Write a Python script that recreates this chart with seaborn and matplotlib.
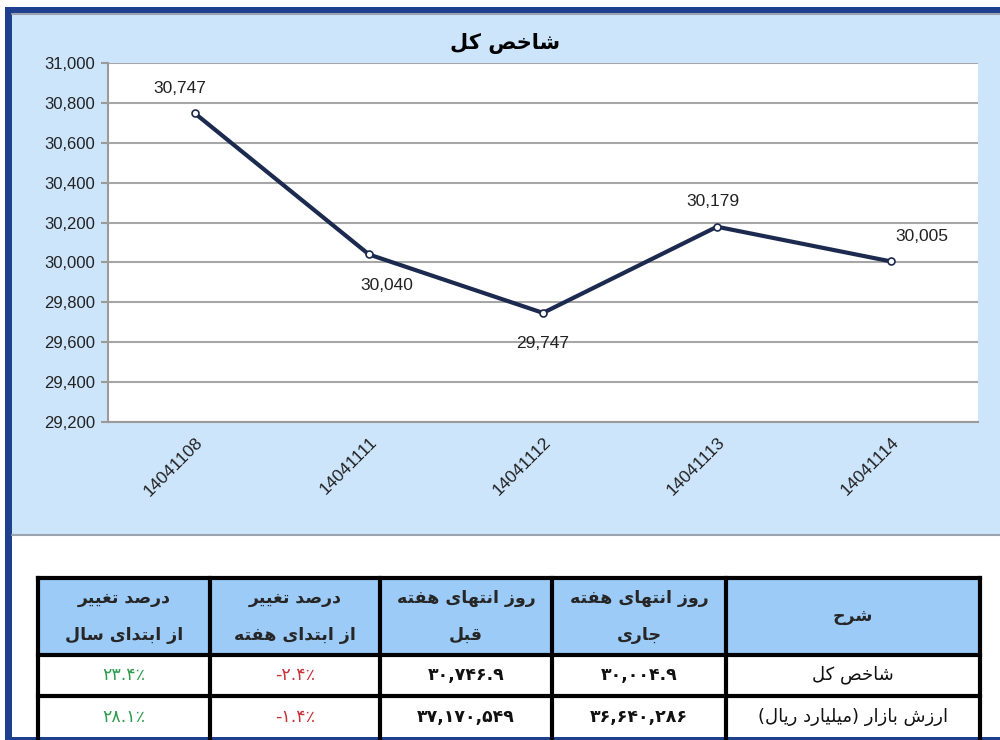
import seaborn as sns
import pandas as pd
import matplotlib.pyplot as plt
from matplotlib.patches import Rectangle

sns.set_style("white")
plt.rcParams['font.family'] = ['Liberation Sans', 'DejaVu Sans']

#-------------------------#
# Data
#-------------------------#
dates = ["14041108", "14041111", "14041112", "14041113", "14041114"]
index_values = [30747, 30040, 29747, 30179, 30005]
label_side = ["above", "below", "below", "above", "above"]
y_ticks = list(range(29200, 31001, 200))

chart_title = "شاخص کل"

# table columns, left to right as drawn
table_header = [
    ["درصد تغییر", "از ابتدای سال"],
    ["درصد تغییر", "از ابتدای هفته"],
    ["روز انتهای هفته", "قبل"],
    ["روز انتهای هفته", "جاری"],
    ["شرح"],
]
row_names = ["شاخص کل", "ارزش بازار (میلیارد ریال)"]
prev_week = ["۳۰,۷۴۶.۹", "۳۷,۱۷۰,۵۴۹"]
this_week = ["۳۰,۰۰۴.۹", "۳۶,۶۴۰,۲۸۶"]
week_change = ["-۲.۴٪", "-۱.۴٪"]
year_change = ["۲۳.۴٪", "۲۸.۱٪"]

#-------------------------#
# Persian shaping (matplotlib has no text layout for RTL)
#-------------------------#
FORMS = {
    'ا': ('\uFE8D', '\uFE8E', None, None),
    'ب': ('\uFE8F', '\uFE90', '\uFE91', '\uFE92'),
    'ت': ('\uFE95', '\uFE96', '\uFE97', '\uFE98'),
    'ج': ('\uFE9D', '\uFE9E', '\uFE9F', '\uFEA0'),
    'ح': ('\uFEA1', '\uFEA2', '\uFEA3', '\uFEA4'),
    'خ': ('\uFEA5', '\uFEA6', '\uFEA7', '\uFEA8'),
    'د': ('\uFEA9', '\uFEAA', None, None),
    'ر': ('\uFEAD', '\uFEAE', None, None),
    'ز': ('\uFEAF', '\uFEB0', None, None),
    'س': ('\uFEB1', '\uFEB2', '\uFEB3', '\uFEB4'),
    'ش': ('\uFEB5', '\uFEB6', '\uFEB7', '\uFEB8'),
    'ص': ('\uFEB9', '\uFEBA', '\uFEBB', '\uFEBC'),
    'غ': ('\uFECD', '\uFECE', '\uFECF', '\uFED0'),
    'ف': ('\uFED1', '\uFED2', '\uFED3', '\uFED4'),
    'ق': ('\uFED5', '\uFED6', '\uFED7', '\uFED8'),
    'ل': ('\uFEDD', '\uFEDE', '\uFEDF', '\uFEE0'),
    'م': ('\uFEE1', '\uFEE2', '\uFEE3', '\uFEE4'),
    'ن': ('\uFEE5', '\uFEE6', '\uFEE7', '\uFEE8'),
    'ه': ('\uFEE9', '\uFEEA', '\uFEEB', '\uFEEC'),
    'و': ('\uFEED', '\uFEEE', None, None),
    'ک': ('\uFB8E', '\uFB8F', '\uFB90', '\uFB91'),
    'ی': ('\uFBFC', '\uFBFD', '\uFBFE', '\uFBFF'),
}


def fa(text):
    out = []
    for i, c in enumerate(text):
        f = FORMS.get(c)
        if f is None:
            out.append(c)
            continue
        prev = text[i - 1] if i > 0 else ""
        nxt = text[i + 1] if i + 1 < len(text) else ""
        p = prev in FORMS and FORMS[prev][2] is not None
        n = nxt in FORMS and f[2] is not None
        if p and n:
            out.append(f[3])
        elif p:
            out.append(f[1])
        elif n:
            out.append(f[2])
        else:
            out.append(f[0])
    s = "".join(out)[::-1]
    return s.translate(str.maketrans("()", ")("))


#-------------------------#
# Figure and background
#-------------------------#
fig = plt.figure(figsize=(10, 7.4), dpi=100)
bg = fig.add_axes([0, 0, 1, 1], zorder=0)
bg.set_xlim(0, 1000)
bg.set_ylim(740, 0)
bg.axis("off")

navy = "#1F3F8F"
bg.add_patch(Rectangle((12, 15), 988, 520, color="#CDE5FB", lw=0))
bg.add_patch(Rectangle((5, 7), 7, 733, color=navy, lw=0))
bg.add_patch(Rectangle((5, 7), 995, 6, color=navy, lw=0))
bg.plot([12, 1000], [14, 14], color="#9AA3AE", lw=1.5)
bg.plot([12, 1000], [535, 535], color="#9AA3AE", lw=1.5)
bg.add_patch(Rectangle((5, 737), 995, 3, color=navy, lw=0))

#-------------------------#
# Line chart
#-------------------------#
df = pd.DataFrame({"date": dates, "value": index_values})
df["pos"] = range(len(df))

ax = fig.add_axes([0.108, 1 - 422 / 740, 0.870, (422 - 63) / 740], zorder=1)
ax.set_facecolor("white")
line_color = "#1B2A4E"
sns.lineplot(data=df, x="pos", y="value", ax=ax, color=line_color, lw=3,
             marker="o", markersize=5, markerfacecolor="white",
             markeredgecolor=line_color, markeredgewidth=1.2)

ax.set_xlim(-0.5, len(dates) - 0.5)
ax.set_ylim(y_ticks[0], y_ticks[-1])
ax.set_yticks(y_ticks)
ax.set_yticklabels([f"{v:,}" for v in y_ticks], fontsize=12, color="#222222")
ax.set_xticks(df["pos"])
ax.set_xticklabels(dates, rotation=45, ha="right", rotation_mode="anchor",
                   fontsize=12.5, color="#222222")
ax.set_xticks([p - 0.5 for p in range(len(dates) + 1)], minor=True)
ax.tick_params(axis="x", which="major", length=0, pad=9)
ax.tick_params(axis="x", which="minor", length=5, color="#9A9A9A", width=1.5)
ax.tick_params(axis="y", length=5, color="#9A9A9A", width=1.5, left=True, pad=4)
ax.set_xlabel("")
ax.set_ylabel("")
ax.grid(axis="y", color="#A6A6A6", lw=1.5)
ax.set_axisbelow(True)
for side in ["top", "right"]:
    ax.spines[side].set_visible(False)
for side in ["left", "bottom"]:
    ax.spines[side].set_color("#9A9A9A")
    ax.spines[side].set_linewidth(1.5)

label_dx = [-11, 13, 0, -3, 22]
for x, v, side, dx in zip(df["pos"], index_values, label_side, label_dx):
    dy = 18 if side == "above" else -22
    ax.annotate(f"{v:,}", (x, v), xytext=(dx, dy), textcoords="offset points",
                ha="center", va="center", fontsize=12.5, color="#222222")

fig.text(0.505, 1 - 43 / 740, fa(chart_title), ha="center", va="center",
         fontsize=15, fontweight="bold", family="DejaVu Sans", color="black")

#-------------------------#
# Table
#-------------------------#
col_edges = [38, 210, 380, 552, 726, 980]
row_edges = [578, 655, 696, 745]
header_bg = "#9CCBF7"

for i in range(len(col_edges) - 1):
    x0, x1 = col_edges[i], col_edges[i + 1]
    bg.add_patch(Rectangle((x0, row_edges[0]), x1 - x0, row_edges[1] - row_edges[0],
                           facecolor=header_bg, lw=0))
for x in col_edges:
    bg.plot([x, x], [row_edges[0], row_edges[-1]], color="black", lw=3, solid_capstyle="projecting")
for y in row_edges[:-1]:
    bg.plot([col_edges[0], col_edges[-1]], [y, y], color="black", lw=3, solid_capstyle="projecting")

for i, lines in enumerate(table_header):
    cx = (col_edges[i] + col_edges[i + 1]) / 2
    if len(lines) == 1:
        bg.text(cx, 616, fa(lines[0]), ha="center", va="center", fontsize=12.5,
                fontweight="bold", family="DejaVu Sans")
    else:
        bg.text(cx, 598, fa(lines[0]), ha="center", va="center", fontsize=12.5,
                fontweight="bold", family="DejaVu Sans")
        bg.text(cx, 635, fa(lines[1]), ha="center", va="center", fontsize=12.5,
                fontweight="bold", family="DejaVu Sans")

green = "#2E9B4E"
red = "#C8323A"
for r in range(len(row_names)):
    cy = 675 if r == 0 else 717
    cells = [(year_change[r], green, "normal"), (week_change[r], red, "normal"),
             (prev_week[r], "#111111", "bold"), (this_week[r], "#111111", "bold")]
    for i, (txt, col, wt) in enumerate(cells):
        cx = (col_edges[i] + col_edges[i + 1]) / 2
        bg.text(cx, cy, txt, ha="center", va="center", fontsize=12.5,
                color=col, family="DejaVu Sans", fontweight=wt)
    cx = (col_edges[4] + col_edges[5]) / 2
    bg.text(cx, cy, fa(row_names[r]), ha="center", va="center", fontsize=13,
            family="DejaVu Sans", color="#111111")

fig.savefig("out.png", dpi=100)
